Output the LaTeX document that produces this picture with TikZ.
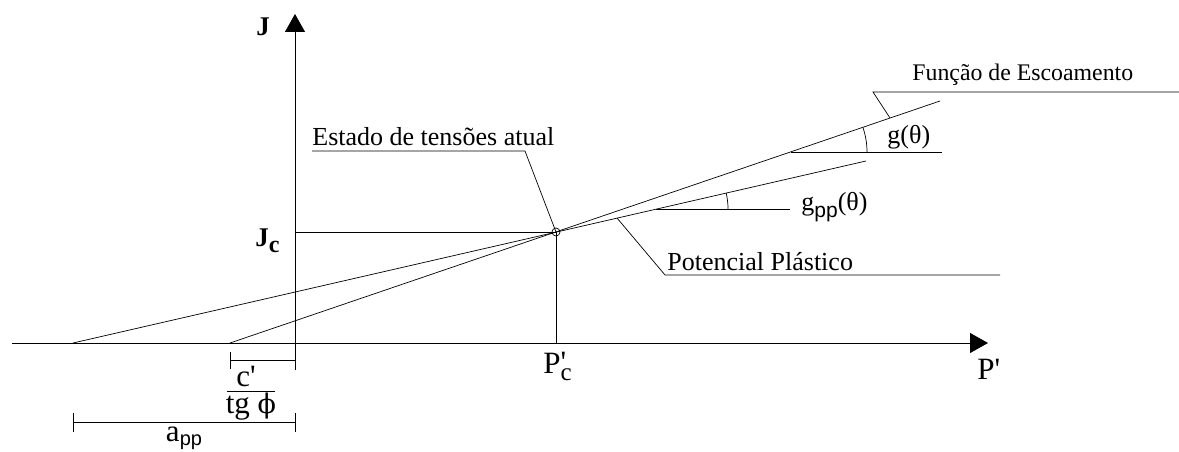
\documentclass[tikz,border=0pt]{standalone}
\usepackage{fontspec}
\setmainfont{Liberation Serif}
\setsansfont{Liberation Sans}
\newfontfamily\dvserif{DejaVu Serif}
\usetikzlibrary{arrows.meta}
\newcommand{\qq}{\textquotesingle}
\begin{document}
\begin{tikzpicture}[x=1pt,y=-1pt,line width=0.8pt,
  lbl/.style={inner sep=0pt,font=\fontsize{26}{29}\selectfont},
  big/.style={inner sep=0pt,font=\fontsize{31}{34}\selectfont},
  small/.style={inner sep=0pt,font=\fontsize{23.8}{27}\selectfont},
  axis/.style={-{Triangle[length=18pt,width=20pt]}},
  thin/.style={line width=0.7pt}]
\useasboundingbox (0,0) rectangle (1179,452);
% key points
\coordinate (Pstart) at (12,343);
\coordinate (Pend) at (988,343);
\coordinate (Jbot) at (295,370);
\coordinate (Jend) at (295,14);
\coordinate (C) at (556,232);
\coordinate (Jc) at (295,232);
\coordinate (Pc) at (556,343);
\coordinate (A1) at (230,343);
\coordinate (A2) at (73,343);
\coordinate (E1) at (940,101);
\coordinate (E2) at (866,161);
% axes
\draw[axis] (Pstart) -- (Pend);
\draw[axis] (Jbot) -- (Jend);
% lines
\draw[thin] (A1) -- (E1);
\draw[thin] (A2) -- (E2);
\draw[thin] (Jc) -- (C) -- (Pc);
\draw[thin] (C) circle[radius=4];
% angle g
\coordinate (G1) at (791,152);
\coordinate (G2) at (942,152);
\draw[thin] (G1) -- (G2);
\draw[thin] (G1) ++(76,0) arc[start angle=0,end angle=-18.8,radius=76];
% angle gpp
\coordinate (H1) at (656,209);
\coordinate (H2) at (790,209);
\draw[thin] (H1) -- (H2);
\draw[thin] (H1) ++(72,0) arc[start angle=0,end angle=-12.9,radius=72];
% leaders
\coordinate (F0) at (890,118);
\coordinate (F1) at (873,92);
\coordinate (F2) at (1179,92);
\draw[thin] (F0) -- (F1) -- (F2);
\coordinate (Q0) at (617,218);
\coordinate (Q1) at (665,275);
\coordinate (Q2) at (1000,275);
\draw[thin] (Q0) -- (Q1) -- (Q2);
\coordinate (S1) at (525,151);
\coordinate (S2) at (312,151);
\draw[thin] (C) -- (S1) -- (S2);
% dimension bars
\coordinate (B1) at (230,360);
\coordinate (B2) at (295,360);
\draw[thin] (B1) -- (B2);
\draw[thin] (230,352) -- (230,369);
\coordinate (D1) at (73,422);
\coordinate (D2) at (295,422);
\draw[thin] (D1) -- (D2);
\draw[thin] (73,413) -- (73,432);
\draw[thin] (295,413) -- (295,432);
% labels
\node[lbl,font=\fontsize{27}{29}\selectfont\bfseries] (J) at (263,27) {J};
\node[lbl,font=\fontsize{27}{29}\selectfont\bfseries,anchor=base west] (JcL) at (255,246) {J\raisebox{-6pt}{\fontsize{24}{26}\selectfont c}};
\node[big,anchor=base west] (PL) at (977,379) {P\qq};
\node[big,anchor=base west] (PcL) at (543,373) {P\makebox[0pt][l]{\raisebox{-7pt}{\fontsize{25}{27}\selectfont c}}\raisebox{1pt}{\qq}};
\node[big,anchor=base] (cL) at (246,386) {c\qq};
\draw[thin] (227,391) -- (275,391);
\node[big,anchor=base] (tgL) at (251,413) {tg {\dvserif\fontsize{27}{30}\selectfont ϕ}};
\node[big,anchor=base] (aL) at (184,441) {a\raisebox{-4pt}{\sffamily\fontsize{20}{22}\selectfont pp}};
\node[lbl,anchor=base west] (gL) at (887,143) {g(θ)};
\node[lbl,anchor=base west] (gppL) at (801,210) {g\raisebox{-7pt}{\sffamily\fontsize{21}{23}\selectfont pp}(θ)};
\node[small,anchor=base west] (FL) at (912,81) {Função de Escoamento};
\node[lbl,anchor=base west] (QL) at (667,270) {Potencial Plástico};
\node[lbl,anchor=base west] (SL) at (312,145) {Estado de tensões atual};
\end{tikzpicture}
\end{document}
